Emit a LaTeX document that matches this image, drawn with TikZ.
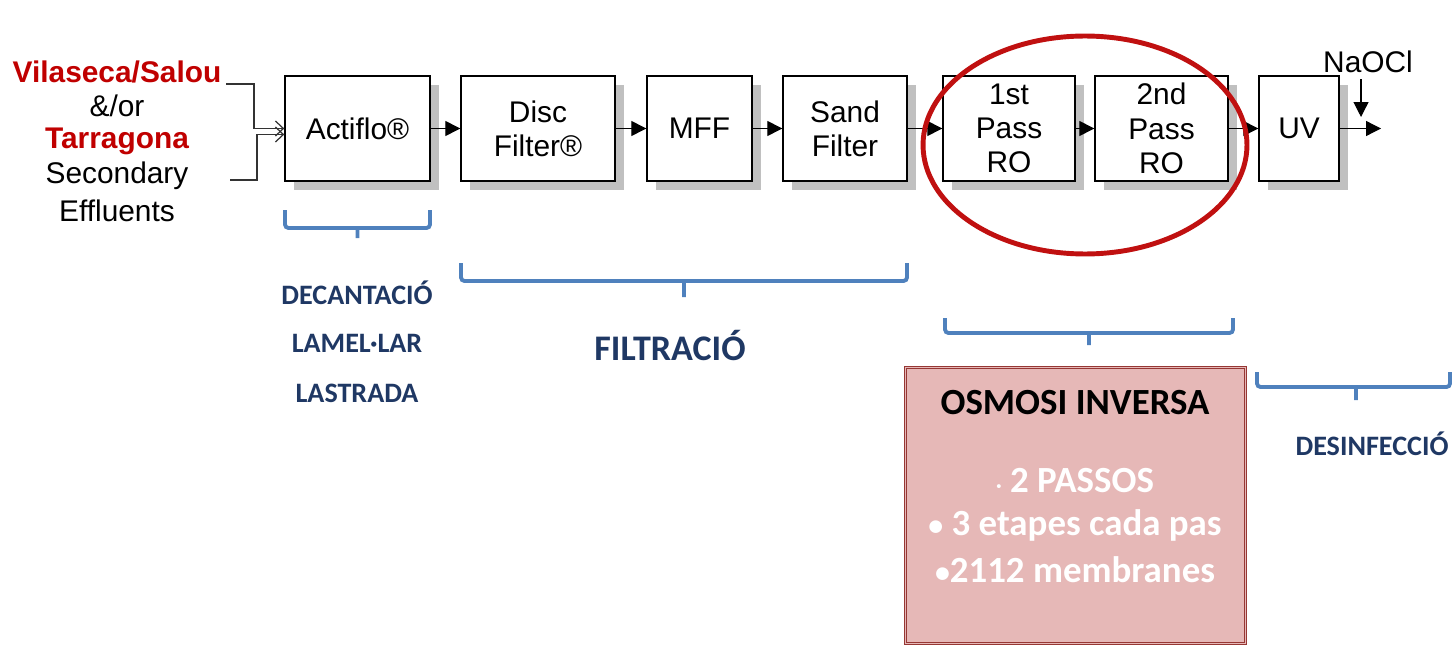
\documentclass[tikz,border=0pt]{standalone}
\usepackage{fontspec}
\setmainfont{Liberation Sans}
\newfontfamily\carlito{Carlito}
\usetikzlibrary{arrows.meta,shadows}
\definecolor{effred}{RGB}{192,0,0}
\definecolor{ringred}{RGB}{192,16,16}
\definecolor{bracketblue}{RGB}{79,129,189}
\definecolor{labelnavy}{RGB}{31,56,100}
\definecolor{osmofill}{RGB}{230,184,183}
\definecolor{osmoline}{RGB}{150,55,52}
\definecolor{shade}{RGB}{192,192,192}
\newcommand{\osmobullet}{{\fontsize{17}{17}\selectfont•}}

\begin{document}
\begin{tikzpicture}[x=0.02cm, y=-0.02cm,
  unit/.style={draw, line width=0.8pt, fill=white, minimum height=2.1cm, align=center, inner sep=0pt,
    font=\fontsize{17}{19.5}\selectfont,
    drop shadow={shadow xshift=0.18cm, shadow yshift=-0.18cm, fill=shade, opacity=1}},
  flow/.style={line width=0.7pt, -{Triangle[length=0.3cm, width=0.3cm]}},
  inflow/.style={line width=0.7pt, black!80, -{Straight Barb[length=0.16cm, width=0.3cm]}},
  bracket/.style={bracketblue, line width=2.2pt, rounded corners=2pt},
  phase/.style={text=labelnavy, font=\carlito\bfseries\fontsize{16}{19}\selectfont},
  src/.style={font=\fontsize{17}{20}\selectfont},
  city/.style={src, text=effred, font=\bfseries\fontsize{17}{20}\selectfont},
  ring/.style={ringred, line width=2.8pt},
  osmo/.style={draw=osmoline, line width=0.5pt, double=osmofill, double distance=1pt, fill=osmofill},
  osmotext/.style={text=white, font=\carlito\bfseries\fontsize{21}{24}\selectfont}]
\useasboundingbox (0,0) rectangle (1452,645);

\node[city] (vila) at (117,72) {Vilaseca/Salou};
\node[src] (andor) at (117,106) {\&/or};
\node[city] (tarr) at (117,141) {Tarragona};
\node[src] (sec) at (117,176) {Secondary};
\node[src] (effl) at (117,211) {Effluents};

\node[unit, minimum width=2.9cm] (act) at (357.5,128.5) {Actiflo®};
\node[unit, minimum width=3.08cm] (disc) at (538,128.5) {Disc\\Filter®};
\node[unit, minimum width=2.1cm] (mff) at (699.5,128.5) {MFF};
\node[unit, minimum width=2.48cm] (sand) at (845,128.5) {Sand\\Filter};
\node[unit, minimum width=2.64cm] (ro1) at (1009,128.5) {1st\\Pass\\RO};
\node[unit, minimum width=2.66cm] (ro2) at (1161.5,128.5) {2nd\\Pass\\RO};
\node[unit, minimum width=1.6cm] (uv) at (1299,128.5) {UV};
\node[src] (naocl) at (1368,62) {NaOCl};

\coordinate (srcA) at (226,84);
\coordinate (srcB) at (230,180);
\coordinate (out) at (1381,128.5);
\coordinate (dose) at (1361,117);

\draw[inflow] (srcA) -- (254,84) |- (act.west);
\draw[inflow] (srcB) -- (257,180) |- ([yshift=-0.12cm]act.west);
\draw[flow] (act) -- (disc);
\draw[flow] (disc) -- (mff);
\draw[flow] (mff) -- (sand);
\draw[flow] (sand) -- (ro1);
\draw[flow] (ro1) -- (ro2);
\draw[flow] (ro2) -- (uv);
\draw[flow] (uv) -- (out);
\draw[flow] (naocl.south -| dose) -- (dose);

\draw[ring] (1085,145) ellipse [x radius=3.24cm, y radius=2.18cm];

\draw[bracket] (285,210) -- (285,228) -- (430,228) -- (430,210) (357.5,228) -- (357.5,238);
\draw[bracket] (461,263) -- (461,281) -- (907,281) -- (907,263) (684,281) -- (684,297);
\draw[bracket] (945,318) -- (945,333) -- (1233,333) -- (1233,318) (1089,333) -- (1089,345);
\draw[bracket] (1257,372) -- (1257,387) -- (1450,387) -- (1450,372) (1356,387) -- (1356,400);

\node[phase] (dec) at (357,293) {DECANTACIÓ};
\node[phase] (lam) at (357,343) {LAMEL·LAR};
\node[phase] (las) at (357,393) {LASTRADA};
\node[phase, font=\carlito\bfseries\fontsize{20.5}{24}\selectfont] (filt) at (670,345) {FILTRACIÓ};
\node[phase] (des) at (1372,444) {DESINFECCIÓ};

\node[osmo, anchor=north west, minimum width=6.8cm, minimum height=5.52cm] (osmo) at (905,367) {};
\node[osmotext, text=black] (osmotitle) at (1075,403) {OSMOSI INVERSA};
\node[osmotext] (pas) at (1075,481) {{\fontsize{12}{12}\selectfont·} 2 PASSOS};
\node[osmotext] (etap) at (1075,525) {\osmobullet{} 3 etapes cada pas};
\node[osmotext] (memb) at (1075,570) {\osmobullet2112 membranes};
\end{tikzpicture}
\end{document}
